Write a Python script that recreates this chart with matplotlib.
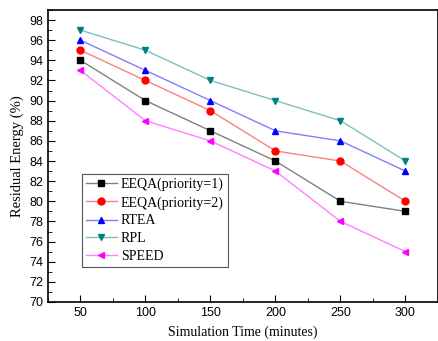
import matplotlib.pyplot as plt
from matplotlib.ticker import MultipleLocator

time = [50, 100, 150, 200, 250, 300]
eeqa1 = [94, 90, 87, 84, 80, 79]
eeqa2 = [95, 92, 89, 85, 84, 80]
rtea = [96, 93, 90, 87, 86, 83]
rpl = [97, 95, 92, 90, 88, 84]
speed = [93, 88, 86, 83, 78, 75]

series = [
    ("EEQA(priority=1)", eeqa1, "s", "black", "#808080"),
    ("EEQA(priority=2)", eeqa2, "o", "red", "#ff8080"),
    ("RTEA", rtea, "^", "blue", "#8080ff"),
    ("RPL", rpl, "v", "#008080", "#80c0c0"),
    ("SPEED", speed, "<", "magenta", "#ff80ff"),
]

fig = plt.figure(figsize=(4.39, 3.41), dpi=100)
ax = fig.add_axes([48 / 439, 39 / 341, 390 / 439, 292 / 341])

for label, y, marker, mc, lc in series:
    ax.plot(time, y, color=lc, lw=1, marker=marker, ms=5,
            mfc=mc, mec=mc, label=label)

ax.set_xlim(25, 325)
ax.set_ylim(70, 99)
ax.xaxis.set_major_locator(MultipleLocator(50))
ax.xaxis.set_minor_locator(MultipleLocator(25))
ax.yaxis.set_major_locator(MultipleLocator(2))
ax.yaxis.set_minor_locator(MultipleLocator(1))
ax.tick_params(which="both", direction="in", top=False, right=False,
               labelsize=9)
ax.tick_params(which="major", length=5)
ax.tick_params(which="minor", length=3)
for lab in ax.get_xticklabels() + ax.get_yticklabels():
    lab.set_family("Liberation Sans")
for s in ax.spines.values():
    s.set_linewidth(1.2)

ax.set_xlabel("Simulation Time (minutes)", family="Liberation Serif",
              fontsize=10, labelpad=5)
ax.set_ylabel("Residual Energy (%)", family="Liberation Serif", fontsize=10.5)

leg = ax.legend(loc="upper left", bbox_to_anchor=(0.087, 0.44),
                prop={"family": "Liberation Serif", "size": 10},
                fancybox=False, edgecolor="#555555", framealpha=1,
                handlelength=2.2, labelspacing=0.35, borderpad=0.3,
                handletextpad=0.3, borderaxespad=0)
leg.get_frame().set_linewidth(0.8)

fig.savefig("out.png", dpi=100)
